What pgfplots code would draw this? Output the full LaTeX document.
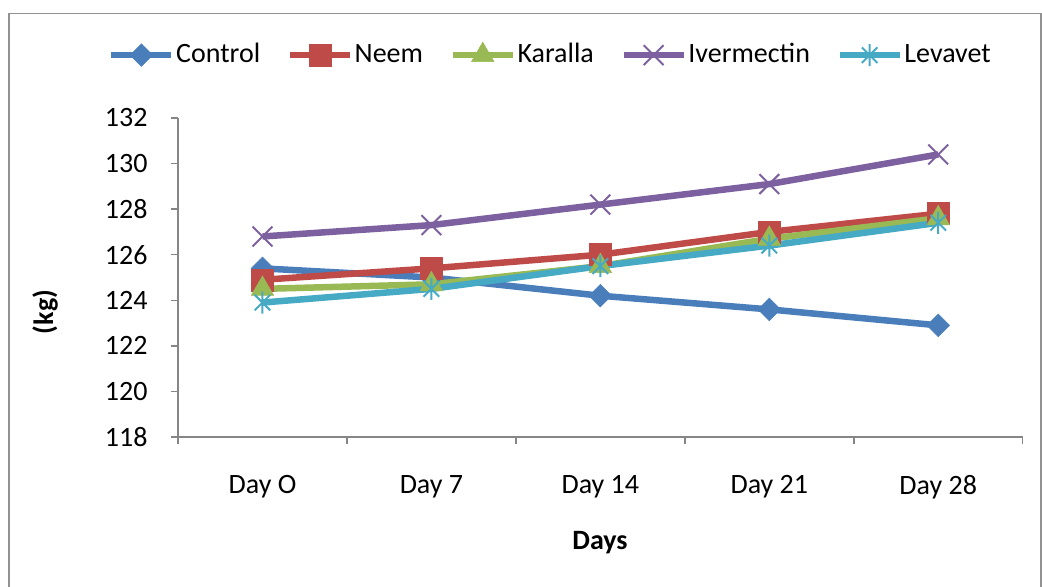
\documentclass[border=0pt]{standalone}
\usepackage{pgfplots}
\pgfplotsset{compat=1.18}
\usepackage{fontspec}
\setmainfont{Carlito}
\definecolor{cCtrl}{HTML}{4A7EBB}
\definecolor{cNeem}{HTML}{BE4B48}
\definecolor{cKar}{HTML}{98B954}
\definecolor{cIver}{HTML}{7D60A0}
\definecolor{cLev}{HTML}{46AAC5}
\definecolor{axgray}{HTML}{868686}
\pgfdeclareplotmark{xstar}{%
  \pgfpathmoveto{\pgfqpoint{0pt}{\pgfplotmarksize}}%
  \pgfpathlineto{\pgfqpoint{0pt}{-\pgfplotmarksize}}%
  \pgfpathmoveto{\pgfqpoint{-.7071\pgfplotmarksize}{-.7071\pgfplotmarksize}}%
  \pgfpathlineto{\pgfqpoint{.7071\pgfplotmarksize}{.7071\pgfplotmarksize}}%
  \pgfpathmoveto{\pgfqpoint{-.7071\pgfplotmarksize}{.7071\pgfplotmarksize}}%
  \pgfpathlineto{\pgfqpoint{.7071\pgfplotmarksize}{-.7071\pgfplotmarksize}}%
  \pgfusepathqstroke}
\begin{document}
\fontsize{28bp}{32bp}\selectfont
\begin{tikzpicture}
\useasboundingbox (0bp,0bp) rectangle (1042bp,587bp);
\draw[axgray!90!white, line width=1.5bp] (9bp,-20bp) -- (9bp,573.5bp) -- (1041bp,573.5bp) -- (1041bp,-20bp);
\begin{axis}[
  at={(178bp,150bp)}, anchor=south west,
  scale only axis, width=844.7bp, height=319bp,
  xmin=-0.5, xmax=4.5, ymin=118, ymax=132,
  axis lines=left,
  axis line style={axgray, line width=1.5bp, -},
  xtick={0,1,2,3,4},
  xticklabels={Day O, Day 7, Day 14, Day 21, Day 28},
  minor xtick={-0.5,0.5,1.5,2.5,3.5,4.5},
  ytick={118,120,...,132},
  tick align=outside,
  major x tick style={draw=none},
  minor tick length=7bp, major tick length=7bp,
  every tick/.style={axgray, line width=1.5bp},
  tick label style={font=\fontsize{28bp}{32bp}\selectfont},
  /pgf/number format/assume math mode=true,
  yticklabel style={xshift=-14bp},
  xticklabel style={yshift=-22bp},
  legend cell align=left,
  legend style={draw=none, fill=none, inner sep=0pt, legend columns=-1,
     at={(-0.0829,1.197)}, anchor=west,
     font=\fontsize{28bp}{32bp}\selectfont,
     nodes={inner xsep=1.5bp},
     /tikz/every even column/.append style={column sep=25bp}},
  legend image code/.code={\draw[mark repeat=2,mark phase=2] plot coordinates {(0bp,0bp)(30bp,0bp)(60bp,0bp)};},
  every axis plot/.append style={line width=6.5bp},
  clip=false,
]
\addplot[cCtrl, mark=square*, mark size=8bp, mark options={rotate=45, line width=0.5bp}] coordinates {(0,125.4)(1,125.0)(2,124.2)(3,123.6)(4,122.9)};
\addlegendentry{Control}
\addplot[cNeem, mark=square*, mark size=11bp, mark options={line width=0.5bp}] coordinates {(0,124.9)(1,125.4)(2,126.0)(3,127.0)(4,127.8)};
\addlegendentry{Neem}
\addplot[cKar, mark=triangle*, mark size=13bp, mark options={line width=0.5bp}] coordinates {(0,124.5)(1,124.7)(2,125.5)(3,126.7)(4,127.6)};
\addlegendentry{Karalla}
\addplot[cIver, mark=x, mark size=14bp, mark options={line width=2bp}] coordinates {(0,126.8)(1,127.3)(2,128.2)(3,129.1)(4,130.4)};
\addlegendentry{Ivermectin}
\addplot[cLev, mark=xstar, mark size=11bp, mark options={line width=2bp}] coordinates {(0,123.9)(1,124.5)(2,125.5)(3,126.4)(4,127.4)};
\addlegendentry{Levavet}
\end{axis}
\node[font=\bfseries\fontsize{28bp}{32bp}\selectfont] at (600bp,44bp) {Days};
\node[rotate=90, font=\bfseries\fontsize{28bp}{32bp}\selectfont] at (45bp,275bp) {(kg)};
\end{tikzpicture}
\end{document}
